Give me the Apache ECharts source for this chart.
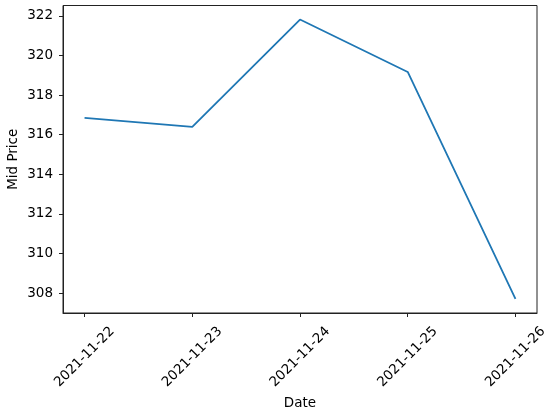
<!DOCTYPE html>
<html lang="en">
<head>
   <meta charset="utf-8">
   <title>Mid Price</title>
   <script src="https://cdn.jsdelivr.net/npm/echarts@6/dist/echarts.min.js"></script>
   <style>
      html, body { margin: 0; padding: 0; background: #fff; }
      #chart { width: 550px; height: 413px; }
   </style>
</head>
<body>
   <div id="chart"></div>
   <script>
      // data
      var dates = ['2021-11-22', '2021-11-23', '2021-11-24', '2021-11-25', '2021-11-26'];
      var midPrice = [316.85, 316.4, 321.82, 319.17, 307.7];
      var yTicks = [308, 310, 312, 314, 316, 318, 320, 322];

      var font = 'DejaVu Sans';
      var fs = 13.5;
      var chart = echarts.init(document.getElementById('chart'), null, { renderer: 'canvas' });

      var option = {
         animation: false,
         grid: {
            left: 63,
            right: 13,
            top: 5.5,
            bottom: 100,
            outerBoundsMode: 'none',
            containLabel: false,
            show: true,
            borderColor: '#222',
            borderWidth: 1
         },
         xAxis: {
            type: 'value',
            min: -0.2,
            max: 4.2,
            name: 'Date',
            nameLocation: 'middle',
            nameGap: 83,
            nameMoveOverlap: false,
            nameTextStyle: { fontFamily: font, fontSize: fs, color: '#000' },
            axisLine: { show: true, onZero: false, lineStyle: { color: '#222', width: 1 } },
            axisTick: {
               show: true,
               length: 4,
               lineStyle: { color: '#222' },
               customValues: dates.map(function (d, i) { return i; })
            },
            axisLabel: {
               customValues: dates.map(function (d, i) { return i; }),
               rotate: 45,
               align: 'center',
               verticalAlign: 'middle',
               margin: 44,
               fontFamily: font,
               fontSize: fs,
               color: '#000',
               formatter: function (v) { return dates[Math.round(v)]; }
            },
            splitLine: { show: false }
         },
         yAxis: {
            type: 'value',
            min: 306.99,
            max: 322.53,
            name: 'Mid Price',
            nameLocation: 'middle',
            nameGap: 43,
            nameMoveOverlap: false,
            nameTextStyle: { fontFamily: font, fontSize: fs, color: '#000' },
            axisLine: { show: true, onZero: false, lineStyle: { color: '#222', width: 1 } },
            axisTick: {
               show: true,
               length: 4,
               lineStyle: { color: '#222' },
               customValues: yTicks
            },
            axisLabel: {
               customValues: yTicks,
               margin: 10,
               fontFamily: font,
               fontSize: fs,
               color: '#000'
            },
            splitLine: { show: false }
         },
         series: [
            {
               type: 'line',
               data: midPrice.map(function (v, i) { return [i, v]; }),
               showSymbol: false,
               lineStyle: { color: '#1f77b4', width: 1.8 },
               itemStyle: { color: '#1f77b4' }
            }
         ]
      };

      chart.setOption(option);
   </script>
</body>
</html>
